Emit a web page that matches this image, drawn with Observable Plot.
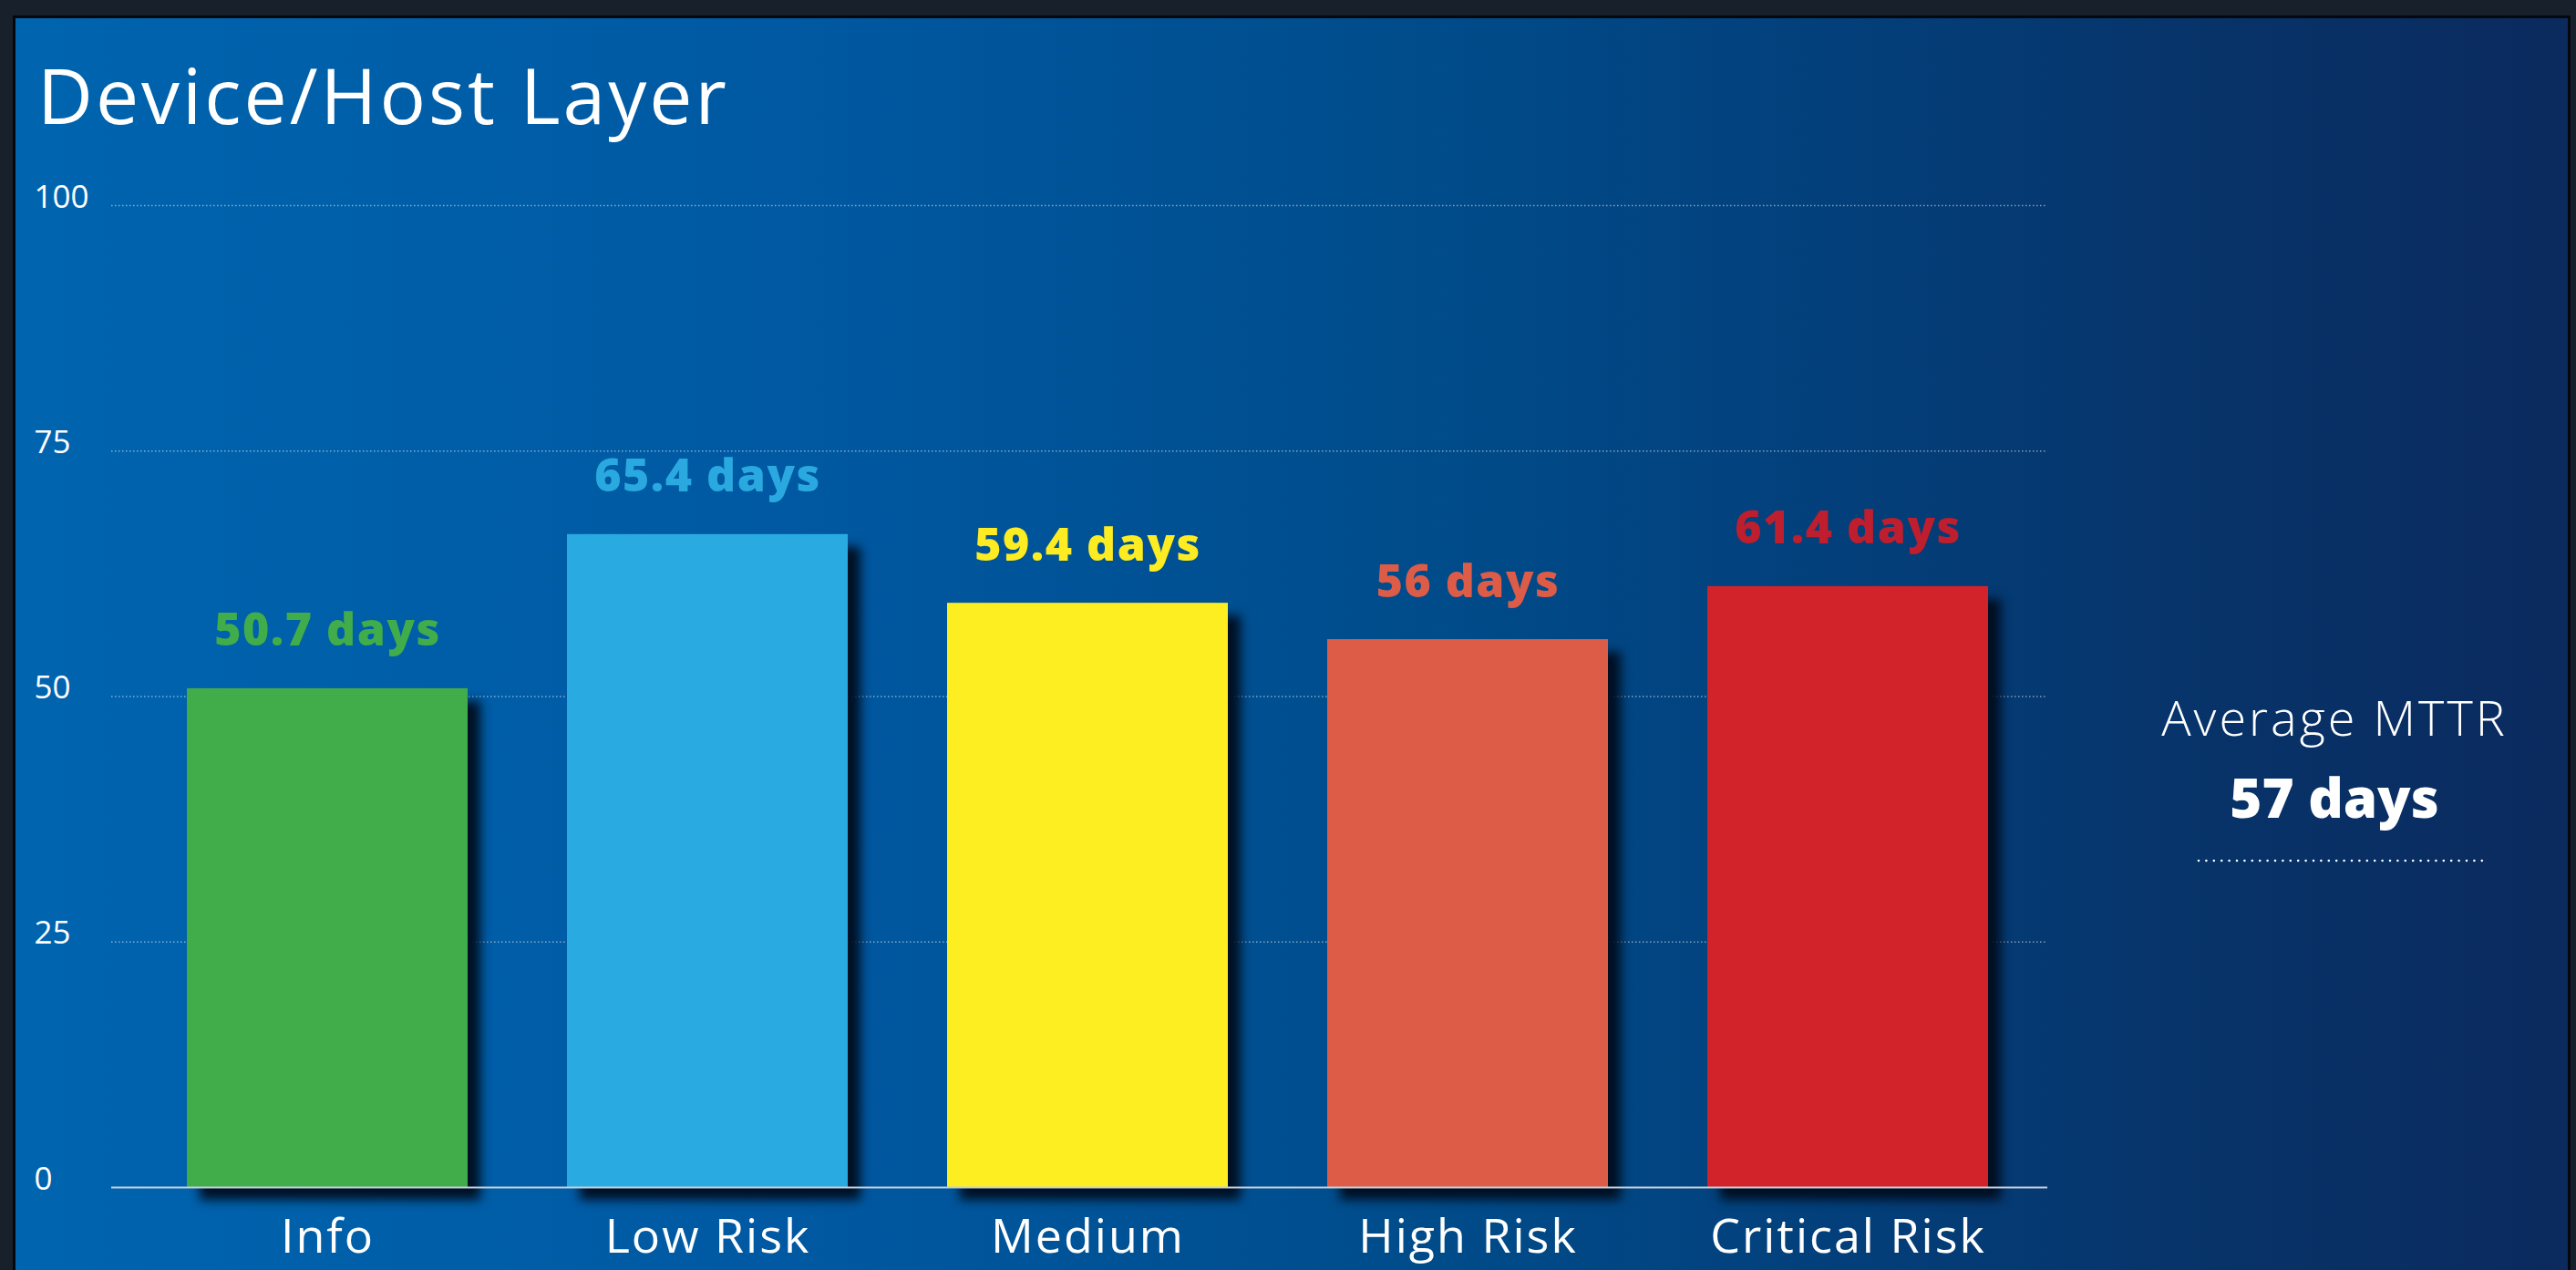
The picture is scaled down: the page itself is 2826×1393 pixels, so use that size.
<!DOCTYPE html>
<html>
<head>
<meta charset="utf-8">
<script src="https://cdn.jsdelivr.net/npm/d3@7"></script>
<script src="https://cdn.jsdelivr.net/npm/@observablehq/plot@0.6"></script>
<style>
  html, body { margin: 0; padding: 0; }
  body { width: 2826px; height: 1393px; background: #18202b; position: relative; overflow: hidden; font-family: "Open Sans", sans-serif; }
  #panel { position: absolute; left: 14px; top: 17px; width: 2806px; height: 1390px; box-sizing: border-box;
    border: 3px solid #05090f;
    background: linear-gradient(to right, #0064af 0%, #0059a2 30%, #004c8b 55%, #033f7a 72%, #07346a 85%, #0b2a5e 100%); }
  #title { position: absolute; left: 41px; top: 62px; margin: 0; font-size: 84px; line-height: 1; font-weight: 500; color: #fff; letter-spacing: 3px; white-space: nowrap; }
  #chart { position: absolute; left: 0; top: 175px; }
  .avgtxt { position: absolute; left: 2261px; width: 600px; text-align: center; color: #fff; line-height: 1; white-space: nowrap; }
  #avgLabel { top: 759px; font-size: 54px; font-weight: 300; letter-spacing: 3px; }
  #avgValue { top: 844px; font-size: 60px; font-weight: 800; }
  #avgRule { position: absolute; left: 2410px; top: 940px; }
</style>
</head>
<body>
<div id="panel"></div>
<h1 id="title">Device/Host Layer</h1>
<div id="chart"></div>
<div id="avgLabel" class="avgtxt"></div>
<div id="avgValue" class="avgtxt"></div>
<svg id="avgRule" width="322" height="8"><line x1="2" y1="4" x2="320" y2="4" stroke="#ffffff" stroke-width="2.6" stroke-linecap="round" stroke-dasharray="0,8.4"></line></svg>
<script>
// ---- data ----
const categories = ["Info", "Low Risk", "Medium", "High Risk", "Critical Risk"];
const mttrDays = [50.7, 65.4, 59.4, 56, 61.4];          // printed values
const barHeights = [50.8, 66.5, 59.5, 55.8, 61.2];      // bar heights as drawn
const barColors = ["#41ad4a", "#29abe2", "#fdee21", "#dd5c47", "#d2232a"];
const labelColors = ["#41ad4a", "#29a9e0", "#fdec22", "#dd5c47", "#be1e2d"];
const yTicks = [0, 25, 50, 75, 100];
const averageLabel = "Average MTTR";
const averageMTTR = 57;

const data = categories.map((c, i) => ({
  category: c,
  value: barHeights[i],
  label: mttrDays[i] + " days",
  color: barColors[i],
  labelColor: labelColors[i]
}));

const chart = Plot.plot({
  width: 2300,
  height: 1218,
  marginTop: 50,
  marginBottom: 91,
  marginLeft: 122,
  marginRight: 54,
  style: { background: "transparent", fontFamily: "Open Sans, sans-serif", color: "#ffffff", overflow: "visible" },
  x: { domain: categories, paddingInner: 0.262, paddingOuter: 0.175, align: 0.56, label: null },
  y: { domain: [0, 100], label: null },
  color: { type: "identity" },
  marks: [
    Plot.ruleY(yTicks.filter(d => d > 0), { stroke: "#ffffff", strokeOpacity: 0.5, strokeWidth: 1.5, strokeDasharray: "1.5,2.5" }),
    Plot.barY(data, { x: "category", y: "value", fill: "color" }),
    Plot.ruleY([0], { stroke: "#c5cfdc", strokeWidth: 2 }),
    Plot.text(data, { x: "category", y: "value", text: "label", fill: "labelColor", dy: -47, lineAnchor: "bottom", fontSize: 50, fontWeight: 800 }),
    Plot.axisY({ ticks: yTicks, tickSize: 0, tickPadding: 85, textAnchor: "start", lineAnchor: "bottom", dy: 2, fontSize: 35, fill: "#ffffff", label: null }),
    Plot.axisX({ tickSize: 0, tickPadding: 35, fontSize: 52, fill: "#ffffff", label: null })
  ]
});
document.getElementById("chart").appendChild(chart);

d3.select(chart).selectAll('g[aria-label="bar"]')
  .style("filter", "drop-shadow(14px 14px 6px rgba(0,12,28,0.95))");
d3.select(chart).selectAll('g[aria-label="x-axis tick label"]').style("letter-spacing", "2px").style("font-weight", 400);
d3.select(chart).selectAll('g[aria-label="y-axis tick label"]').style("font-weight", 400);
d3.select(chart).selectAll('g[aria-label="text"]').style("letter-spacing", "1.5px");

document.getElementById("avgLabel").textContent = averageLabel;
document.getElementById("avgValue").textContent = averageMTTR + " days";
</script>
</body>
</html>
